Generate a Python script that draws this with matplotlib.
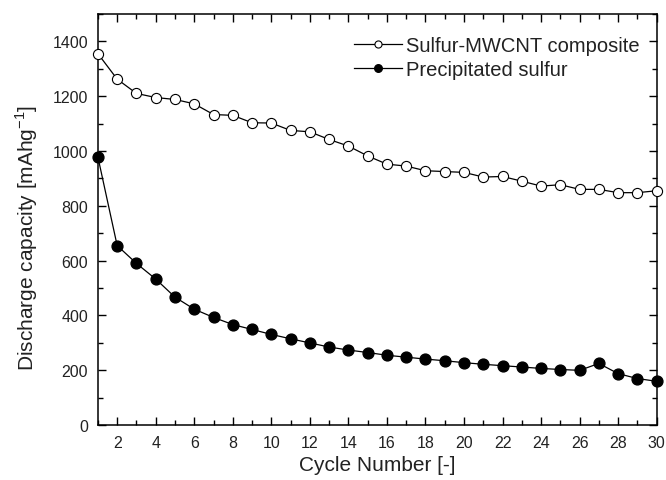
import matplotlib.pyplot as plt
import numpy as np

plt.rcParams['font.family'] = ['Liberation Sans', 'DejaVu Sans']

cycles = np.arange(1, 31)
mwcnt = [1355, 1262, 1210, 1195, 1188, 1172, 1133, 1130, 1103, 1102,
         1075, 1070, 1042, 1018, 982, 952, 945, 928, 925, 922,
         905, 907, 890, 872, 877, 860, 860, 848, 848, 855]
precip = [978, 655, 590, 533, 467, 423, 393, 367, 349, 331,
          315, 300, 285, 274, 265, 255, 248, 241, 235, 228,
          222, 217, 212, 207, 203, 200, 225, 188, 170, 160]

fig = plt.figure(figsize=(6.66, 4.81), dpi=100)
ax = fig.add_axes([0.147, 0.114, 0.839, 0.855])

ax.plot(cycles, mwcnt, color='black', linewidth=0.9, marker='o', markersize=7.3,
        markerfacecolor='white', markeredgecolor='black', markeredgewidth=0.8,
        label='Sulfur-MWCNT composite', clip_on=False, zorder=3)
ax.plot(cycles, precip, color='black', linewidth=0.9, marker='o', markersize=7.8,
        markerfacecolor='black', markeredgecolor='black',
        label='Precipitated sulfur', clip_on=False, zorder=3)

ax.set_xlim(1, 30)
ax.set_ylim(0, 1500)
ax.set_xticks(range(2, 31, 2))
ax.set_xticks(range(1, 31, 2), minor=True)
ax.set_yticks(range(0, 1401, 200))
ax.set_yticks(range(100, 1501, 200), minor=True)
ax.tick_params(which='both', direction='in', top=True, right=True,
               labelsize=11.5, colors='black', labelcolor='#222222')
ax.tick_params(which='major', length=6, width=1, pad=7)
ax.tick_params(which='minor', length=3.5, width=1)
ax.tick_params(axis='y', which='major', pad=7)
for s in ax.spines.values():
    s.set_linewidth(1.1)

ax.set_xlabel('Cycle Number [-]', fontsize=15, color='#222222', labelpad=4)
ax.set_ylabel('Discharge capacity [mAhg$^{\\mathregular{-1}}$]', fontsize=15,
              color='#222222')
ax.yaxis.set_label_coords(-0.104, 0.457)

leg = ax.legend(loc='upper right', bbox_to_anchor=(0.984, 0.966), frameon=False,
                fontsize=14.5, handlelength=2.4, handletextpad=0.2,
                borderaxespad=0, labelspacing=0.25, markerscale=0.7)
for t in leg.get_texts():
    t.set_color('#222222')

fig.savefig('out.png', dpi=100)
